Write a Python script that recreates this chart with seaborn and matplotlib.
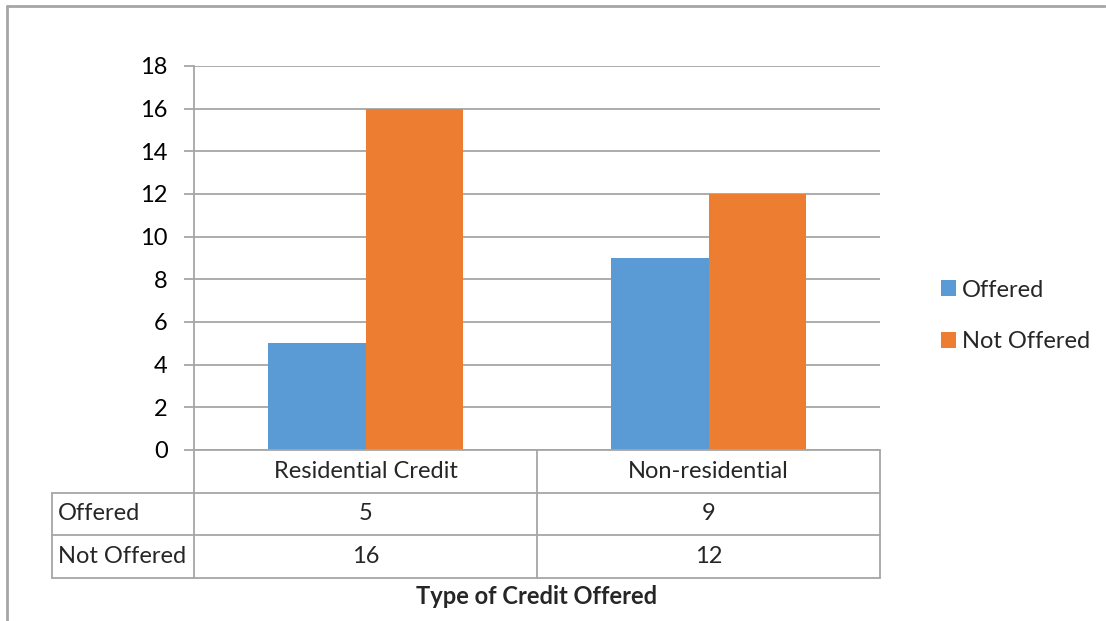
import matplotlib
matplotlib.use("Agg")
import matplotlib.pyplot as plt
from matplotlib.lines import Line2D
import seaborn as sns
import pandas as pd

categories = ["Residential Credit", "Non-residential"]
series_names = ["Offered", "Not Offered"]
offered = [5, 9]
not_offered = [16, 12]
y_ticks = [0, 2, 4, 6, 8, 10, 12, 14, 16, 18]
x_title = "Type of Credit Offered"

colors = ["#5B9BD5", "#ED7D31"]
grid_c = "#A6A6A6"

sns.set_theme(style="white")
plt.rcParams["font.family"] = ["Lato", "DejaVu Sans"]

W, H = 1106, 621
fig = plt.figure(figsize=(W / 100, H / 100), dpi=100)

def fx(px):
    return px / W

def fy(py):
    return 1 - py / H

ax_l, ax_r, ax_t, ax_b = 194, 880, 66, 450
ax = fig.add_axes([fx(ax_l), fy(ax_b), fx(ax_r) - fx(ax_l), fy(ax_t) - fy(ax_b)])

df = pd.DataFrame({
    "category": categories * 2,
    "series": [series_names[0]] * len(categories) + [series_names[1]] * len(categories),
    "value": offered + not_offered,
})

sns.barplot(data=df, x="category", y="value", hue="series", palette=colors,
            width=0.57, ax=ax, saturation=1, legend=False, zorder=3)

fs = 17
ax.set_xlim(-0.5, len(categories) - 0.5)
ax.set_ylim(0, 18)
ax.set_yticks(y_ticks)
ax.set_yticklabels([str(t) for t in y_ticks], fontsize=fs, color="#000000")
ax.set_xticks([])
ax.set_xlabel("")
ax.set_ylabel("")
ax.yaxis.grid(True, color=grid_c, linewidth=1.3, zorder=0)
ax.set_axisbelow(True)
for s in ["top", "right", "bottom"]:
    ax.spines[s].set_visible(False)
ax.spines["left"].set_color(grid_c)
ax.spines["left"].set_linewidth(1.3)
ax.tick_params(axis="y", which="both", left=True, length=7, width=1.3,
               color=grid_c, pad=12)
for b in ax.patches:
    b.set_edgecolor("none")

# Data table
tbl_left = 52
row_lines = [450, 493, 535, 578]
col_lines = [194, 537, 880]

def hline(y, x0, x1):
    fig.add_artist(Line2D([fx(x0), fx(x1)], [fy(y), fy(y)], color=grid_c, lw=1.3))

def vline(x, y0, y1):
    fig.add_artist(Line2D([fx(x), fx(x)], [fy(y0), fy(y1)], color=grid_c, lw=1.3))

hline(row_lines[0], col_lines[0], col_lines[-1])
for y in row_lines[1:]:
    hline(y, tbl_left, col_lines[-1])
vline(tbl_left, row_lines[1], row_lines[-1])
for x in col_lines:
    vline(x, row_lines[0], row_lines[-1])

for i, cat in enumerate(categories):
    cx = (col_lines[i] + col_lines[i + 1]) / 2
    fig.text(fx(cx), fy((row_lines[0] + row_lines[1]) / 2), cat,
             ha="center", va="center", fontsize=fs)
    fig.text(fx(cx), fy((row_lines[1] + row_lines[2]) / 2), str(offered[i]),
             ha="center", va="center", fontsize=fs)
    fig.text(fx(cx), fy((row_lines[2] + row_lines[3]) / 2), str(not_offered[i]),
             ha="center", va="center", fontsize=fs)
for j, name in enumerate(series_names):
    fig.text(fx(tbl_left + 6), fy((row_lines[j + 1] + row_lines[j + 2]) / 2), name,
             ha="left", va="center", fontsize=fs)

fig.text(fx((col_lines[0] + col_lines[-1]) / 2), fy(596), x_title,
         ha="center", va="center", fontsize=fs, fontweight="bold")

# Legend
handles = [plt.Rectangle((0, 0), 1, 1, facecolor=c, edgecolor="none") for c in colors]
fig.legend(handles, series_names, loc="center left",
           bbox_to_anchor=(fx(941), fy(316)), frameon=False, fontsize=fs,
           handlelength=0.65, handleheight=0.65, handletextpad=0.25,
           labelspacing=1.3, borderpad=0, borderaxespad=0)

# Outer border
fig.add_artist(Line2D([fx(7), fx(1105)], [fy(6), fy(6)], color="#A6A6A6", lw=2))
fig.add_artist(Line2D([fx(7), fx(7)], [fy(6), fy(621)], color="#A6A6A6", lw=2))

fig.savefig("out.png", dpi=100)
